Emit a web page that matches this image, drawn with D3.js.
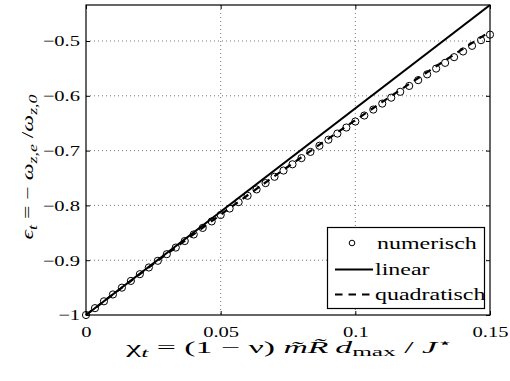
<!DOCTYPE html>
<html>
<head>
<meta charset="utf-8">
<script src="https://cdn.jsdelivr.net/npm/d3@7"></script>
<style>
  html, body { margin: 0; padding: 0; background: #fff; }
  svg { display: block; }
</style>
</head>
<body>
<svg id="chart" width="510" height="381"></svg>
<script>
// ---- data ----
const numX = [0, 0.003333, 0.006667, 0.01, 0.013333, 0.016667, 0.02, 0.023333, 0.026667, 0.03,
  0.033333, 0.036667, 0.04, 0.043333, 0.046667, 0.05, 0.053333, 0.056667, 0.06, 0.063333,
  0.066667, 0.07, 0.073333, 0.076667, 0.08, 0.083333, 0.086667, 0.09, 0.093333, 0.096667,
  0.1, 0.103333, 0.106667, 0.11, 0.113333, 0.116667, 0.12, 0.123333, 0.126667, 0.13,
  0.133333, 0.136667, 0.14, 0.143333, 0.146667, 0.15];
const numY = [-1.0000, -0.9875, -0.9750, -0.9625, -0.9501, -0.9378, -0.9255, -0.9133, -0.9011, -0.8890,
  -0.8770, -0.8650, -0.8530, -0.8411, -0.8292, -0.8175, -0.8057, -0.7940, -0.7824, -0.7708,
  -0.7593, -0.7478, -0.7364, -0.7250, -0.7137, -0.7024, -0.6912, -0.6801, -0.6689, -0.6579,
  -0.6469, -0.6360, -0.6251, -0.6142, -0.6034, -0.5927, -0.5820, -0.5714, -0.5608, -0.5503,
  -0.5399, -0.5295, -0.5191, -0.5088, -0.4985, -0.4884];
const linX = [0, 0.15];
const linY = [-1, -0.4343];
const quadX = [0, 0.01, 0.02, 0.03, 0.04, 0.05, 0.06, 0.07, 0.08, 0.09, 0.10, 0.11, 0.12, 0.13, 0.14, 0.15];
const quadY = [-1, -0.9624, -0.9254, -0.8888, -0.8526, -0.8168, -0.7815, -0.7465, -0.7121, -0.6780,
  -0.6444, -0.6112, -0.5784, -0.5461, -0.5142, -0.4827];
const xTicks = [0, 0.05, 0.1, 0.15];
const xTickLabels = ["0", "0.05", "0.1", "0.15"];
const yTicks = [-1, -0.9, -0.8, -0.7, -0.6, -0.5];
const yTickLabels = ["\u22121", "\u22120.9", "\u22120.8", "\u22120.7", "\u22120.6", "\u22120.5"];
const legendLabels = ["numerisch", "linear", "quadratisch"];

// ---- layout ----
const FONT = "Liberation Serif";
const L = 86, R = 490, T = 5, B = 315;
const SX = 1.37; // horizontal text stretch seen in the reference
const svg = d3.select("#chart");
const x = d3.scaleLinear().domain([0, 0.15]).range([L, R]);
const y = d3.scaleLinear().domain([-1, -0.4343]).range([B, T]);

// grid
const grid = svg.append("g").attr("stroke", "#555").attr("stroke-width", 0.8).attr("stroke-dasharray", "1,3");
xTicks.filter(v => v > 0 && v < 0.15).forEach(v => {
  grid.append("line").attr("x1", x(v)).attr("x2", x(v)).attr("y1", T).attr("y2", B);
});
yTicks.filter(v => v > -1).forEach(v => {
  grid.append("line").attr("x1", L).attr("x2", R).attr("y1", y(v)).attr("y2", y(v));
});

// axes (ticks inside, MATLAB-like)
const fmtX = (d) => xTickLabels[xTicks.indexOf(d)];
const fmtY = (d) => yTickLabels[yTicks.indexOf(d)];
const xAxis = d3.axisBottom(x).tickValues(xTicks).tickFormat(fmtX).tickSizeInner(-4).tickSizeOuter(0).tickPadding(11);
const yAxis = d3.axisLeft(y).tickValues(yTicks).tickFormat(fmtY).tickSizeInner(-4).tickSizeOuter(0).tickPadding(6);
const xAxisTop = d3.axisTop(x).tickValues(xTicks).tickFormat("").tickSizeInner(-4).tickSizeOuter(0);
const yAxisRight = d3.axisRight(y).tickValues(yTicks).tickFormat("").tickSizeInner(-4).tickSizeOuter(0);

function styleAxis(g) {
  g.attr("font-family", null).attr("font-size", null);
  g.select(".domain").remove();
  g.selectAll("line").attr("stroke", "#000");
  g.selectAll("text").attr("fill", "#000").style("font-family", FONT).style("font-size", "15px");
}
svg.append("g").attr("transform", `translate(0,${B})`).call(xAxis).call(styleAxis)
  .selectAll("text").attr("transform", `scale(${SX},1)`);
svg.append("g").attr("transform", `translate(${L},0)`).call(yAxis).call(styleAxis)
  .selectAll("text").each(function () {
    const tx = +d3.select(this).attr("x");
    d3.select(this).attr("transform", `translate(${tx},0) scale(${SX},1) translate(${-tx},0)`);
  });
svg.append("g").attr("transform", `translate(0,${T})`).call(xAxisTop).call(styleAxis);
svg.append("g").attr("transform", `translate(${R},0)`).call(yAxisRight).call(styleAxis);

// data: numerisch circles
const numData = numX.map((v, i) => [v, numY[i]]);
svg.append("g").selectAll("circle").data(numData).join("circle")
  .attr("cx", d => x(d[0])).attr("cy", d => y(d[1])).attr("r", 3.6)
  .attr("fill", "none").attr("stroke", "#000").attr("stroke-width", 1);

const line = d3.line().x(d => x(d[0])).y(d => y(d[1]));
svg.append("path").datum(linX.map((v, i) => [v, linY[i]])).attr("d", line)
  .attr("fill", "none").attr("stroke", "#000").attr("stroke-width", 2.2);
svg.append("path").datum(quadX.map((v, i) => [v, quadY[i]])).attr("d", line)
  .attr("fill", "none").attr("stroke", "#000").attr("stroke-width", 2.2).attr("stroke-dasharray", "7,6");

// frame
svg.append("rect").attr("x", L).attr("y", T).attr("width", R - L).attr("height", B - T)
  .attr("fill", "none").attr("stroke", "#000").attr("stroke-width", 1.2);

// legend
const lg = svg.append("g");
lg.append("rect").attr("x", 327.5).attr("y", 227.5).attr("width", 157).attr("height", 81)
  .attr("fill", "#fff").attr("stroke", "#000").attr("stroke-width", 1.2);
const rows = [249, 275, 300];
lg.append("circle").attr("cx", 352).attr("cy", rows[0] - 6).attr("r", 2.8).attr("fill", "none").attr("stroke", "#000");
lg.append("line").attr("x1", 335).attr("x2", 373).attr("y1", rows[1] - 5.5).attr("y2", rows[1] - 5.5)
  .attr("stroke", "#000").attr("stroke-width", 2.2);
lg.append("line").attr("x1", 335).attr("x2", 373).attr("y1", rows[2] - 5.5).attr("y2", rows[2] - 5.5)
  .attr("stroke", "#000").attr("stroke-width", 2.2).attr("stroke-dasharray", "7.5,6");
legendLabels.forEach((t, i) => {
  const tx = i === 0 ? 377 : 375;
  lg.append("text").attr("x", tx).attr("y", rows[i]).text(t)
    .style("font-family", FONT).style("font-size", "17.5px")
    .attr("transform", `translate(${tx},0) scale(${SX},1) translate(${-tx},0)`);
});

// helper: stretch a text (anchored middle at 0,0) to a target width
function fitWidth(sel, cx, cy, target, rotate) {
  const w = sel.node().getBBox().width;
  const s = target / w;
  sel.attr("transform", `translate(${cx},${cy})${rotate ? " rotate(" + rotate + ")" : ""} scale(${s},1)`);
}

// x label
const xl = svg.append("text").attr("x", 0).attr("y", 0).attr("text-anchor", "middle")
  .style("font-family", FONT).style("font-size", "16px");
xl.append("tspan").text("\u03c7");
xl.append("tspan").attr("font-style", "italic").attr("dy", 4).style("font-size", "12px").text("t");
xl.append("tspan").attr("dy", -4).text(" = (1 \u2212 \u03bd) ");
xl.append("tspan").attr("font-style", "italic").text("m\u0303R\u0303\u2009d");
xl.append("tspan").attr("dy", 3).style("font-size", "12px").text("max");
xl.append("tspan").attr("dy", -3).text(" / ");
xl.append("tspan").attr("font-style", "italic").text("J");
xl.append("tspan").attr("dy", -6).style("font-size", "12px").text("\u22c6");
fitWidth(xl, 290, 353, 330);

// y label
const yl = svg.append("text").attr("x", 0).attr("y", 0).attr("text-anchor", "middle")
  .style("font-family", FONT).style("font-size", "16px");
yl.append("tspan").attr("font-style", "italic").text("\u03f5");
yl.append("tspan").attr("font-style", "italic").attr("dy", 4).style("font-size", "12px").text("t");
yl.append("tspan").attr("dy", -4).text(" = \u2212 ");
yl.append("tspan").attr("font-style", "italic").text("\u03c9");
yl.append("tspan").attr("font-style", "italic").attr("dy", 4).style("font-size", "12px").text("z,e");
yl.append("tspan").attr("dy", -4).text(" /");
yl.append("tspan").attr("font-style", "italic").text("\u03c9");
yl.append("tspan").attr("font-style", "italic").attr("dy", 4).style("font-size", "12px").text("z,0");
fitWidth(yl, 33, 167, 145, -90);
</script>
</body>
</html>
